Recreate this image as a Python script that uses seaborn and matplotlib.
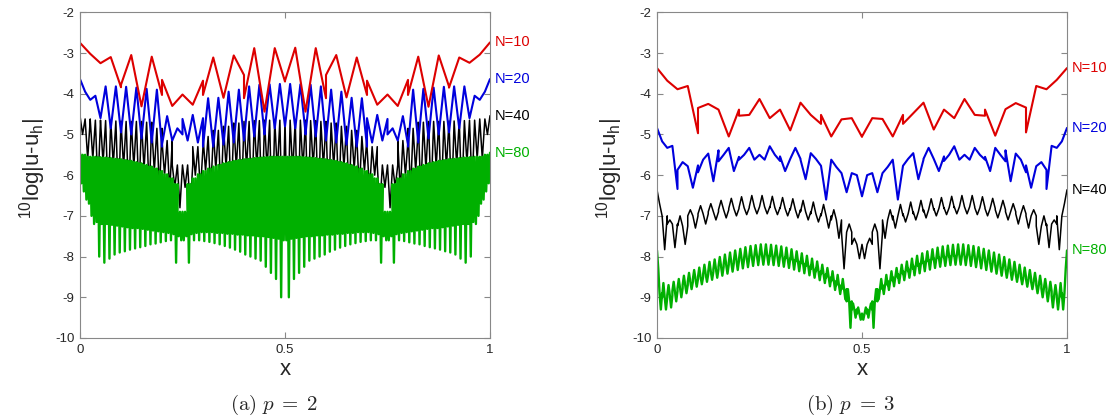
import matplotlib
matplotlib.use("Agg")
import matplotlib.pyplot as plt
import seaborn as sns

# ---------------- data ----------------
x_ticks = [0, 0.5, 1]
x_tick_labels = ["0", "0.5", "1"]
y_ticks = [-10, -9, -8, -7, -6, -5, -4, -3, -2]
labels = ["N=10", "N=20", "N=40", "N=80"]
elements = [10, 20, 40, 80]

# p = 2, N=10 (5 samples per element)
red_p2 = [-2.75, -3.02, -3.25, -3.10, -3.84,
          -3.78, -3.05, -4.31, -3.09, -4.03,
          -3.66, -4.30, -4.02, -4.27, -3.68,
          -4.03, -3.11, -4.10, -3.06, -3.54,
          -4.11, -2.88, -4.44, -2.88, -3.70,
          -3.68, -2.87, -4.44, -2.88, -4.11,
          -3.54, -3.05, -4.09, -3.11, -4.03,
          -3.68, -4.27, -4.02, -4.30, -3.66,
          -4.03, -3.09, -4.32, -3.06, -3.82,
          -3.85, -3.11, -3.24, -3.04, -2.74]
# p = 2, N=20
blue_p2 = [-3.64, -3.95, -4.15, -4.05, -4.60,
           -4.60, -3.82, -4.85, -3.82, -4.95,
           -4.95, -3.83, -5.00, -3.85, -5.10,
           -5.10, -3.88, -5.20, -3.90, -5.30,
           -5.25, -4.55, -5.15, -4.85, -5.00,
           -4.62, -5.15, -4.52, -5.20, -4.60,
           -5.30, -4.11, -5.30, -4.10, -5.25,
           -5.25, -3.95, -5.20, -3.90, -5.15,
           -5.15, -3.82, -5.05, -3.78, -5.00,
           -4.95, -3.77, -4.85, -3.76, -4.80,
           -4.80, -3.76, -4.85, -3.77, -4.95,
           -5.00, -3.78, -5.05, -3.82, -5.15,
           -5.15, -3.90, -5.20, -3.95, -5.25,
           -5.25, -4.10, -5.30, -4.11, -5.30,
           -4.60, -5.20, -4.52, -5.15, -4.62,
           -5.00, -4.85, -5.15, -4.55, -5.25,
           -5.30, -3.90, -5.20, -3.88, -5.10,
           -5.10, -3.85, -5.00, -3.83, -4.95,
           -4.95, -3.82, -4.85, -3.82, -4.60,
           -4.60, -4.05, -4.15, -3.95, -3.64]
# p = 2, N=40 : per element samples (edge/middle value, 2nd and 4th sample)
black_p2_mid = [-4.62, -4.65, -4.66, -4.67, -4.68, -4.68, -4.70, -4.85, -5.15, -5.75,
                -5.75, -5.30, -5.05, -4.90, -4.80, -4.72, -4.68, -4.66, -4.65, -4.65,
                -4.65, -4.65, -4.66, -4.68, -4.72, -4.80, -4.90, -5.05, -5.30, -5.75,
                -5.75, -5.15, -4.85, -4.70, -4.68, -4.68, -4.67, -4.66, -4.65, -4.62]
black_p2_k1 = [-5.00, -5.60, -5.70, -5.75, -5.80, -5.80, -5.85, -5.90, -6.00, -6.30,
               -6.30, -6.00, -5.90, -5.85, -5.80, -5.80, -5.80, -5.80, -5.85, -5.90,
               -7.50, -7.30, -7.00, -6.85, -6.70, -6.60, -6.50, -6.40, -6.40, -6.80,
               -6.80, -6.40, -6.40, -6.45, -6.50, -6.60, -6.70, -6.60, -6.30, -5.60]
black_p2_k3 = [-5.60, -6.30, -6.60, -6.70, -6.60, -6.50, -6.45, -6.40, -6.40, -6.80,
               -6.80, -6.40, -6.40, -6.50, -6.60, -6.70, -6.85, -7.00, -7.30, -7.50,
               -5.90, -5.85, -5.80, -5.80, -5.80, -5.80, -5.85, -5.90, -6.00, -6.30,
               -6.30, -6.00, -5.90, -5.85, -5.80, -5.80, -5.75, -5.70, -5.60, -5.00]
black_p2_ends = [-4.54, -4.54]
# p = 2, N=80
green_p2_mid = [-5.50, -5.55, -5.55, -5.56, -5.57, -5.58, -5.60, -5.61, -5.63, -5.65,
                -5.68, -5.71, -5.75, -5.79, -5.84, -5.90, -5.98, -6.08, -6.22, -6.90,
                -6.90, -6.22, -6.08, -5.98, -5.90, -5.84, -5.79, -5.75, -5.71, -5.68,
                -5.65, -5.63, -5.61, -5.60, -5.58, -5.57, -5.56, -5.55, -5.55, -5.55,
                -5.55, -5.55, -5.55, -5.56, -5.57, -5.58, -5.60, -5.61, -5.63, -5.65,
                -5.68, -5.71, -5.75, -5.79, -5.84, -5.90, -5.98, -6.08, -6.22, -6.90,
                -6.90, -6.22, -6.08, -5.98, -5.90, -5.84, -5.79, -5.75, -5.71, -5.68,
                -5.65, -5.63, -5.61, -5.60, -5.58, -5.57, -5.56, -5.55, -5.55, -5.50]
green_p2_k1 = [-6.20, -6.60, -7.00, -7.15, -7.20, -7.20, -7.22, -7.24, -7.26, -7.28,
               -7.30, -7.30, -7.32, -7.34, -7.36, -7.38, -7.40, -7.42, -7.45, -7.50,
               -7.60, -8.15, -7.60, -7.60, -7.62, -7.64, -7.67, -7.70, -7.74, -7.78,
               -7.83, -7.88, -7.95, -8.00, -8.05, -8.10, -8.25, -8.40, -8.55, -9.00,
               -7.60, -7.56, -7.54, -7.52, -7.50, -7.50, -7.48, -7.48, -7.46, -7.46,
               -7.44, -7.44, -7.42, -7.42, -7.40, -7.40, -7.40, -7.42, -7.45, -7.50,
               -7.60, -8.15, -7.60, -7.62, -7.65, -7.68, -7.70, -7.74, -7.77, -7.80,
               -7.83, -7.87, -7.90, -7.95, -8.05, -8.15, -8.00, -7.20, -6.70, -6.40]
green_p2_k3 = [-6.40, -6.70, -7.20, -8.00, -8.15, -8.05, -7.95, -7.90, -7.87, -7.83,
               -7.80, -7.77, -7.74, -7.70, -7.68, -7.65, -7.62, -7.60, -8.15, -7.60,
               -7.50, -7.45, -7.42, -7.40, -7.40, -7.40, -7.42, -7.42, -7.44, -7.44,
               -7.46, -7.46, -7.48, -7.48, -7.50, -7.50, -7.52, -7.54, -7.56, -7.60,
               -9.00, -8.55, -8.40, -8.25, -8.10, -8.05, -8.00, -7.95, -7.88, -7.83,
               -7.78, -7.74, -7.70, -7.67, -7.64, -7.62, -7.60, -7.60, -8.15, -7.60,
               -7.50, -7.45, -7.42, -7.40, -7.38, -7.36, -7.34, -7.32, -7.30, -7.30,
               -7.28, -7.26, -7.24, -7.22, -7.20, -7.20, -7.15, -7.00, -6.60, -6.20]
green_p2_ends = [-5.45, -5.45]

# p = 3, N=10
red_p3 = [-3.37, -3.68, -3.89, -3.81, -4.97,
          -4.35, -4.25, -4.39, -5.05, -4.39,
          -4.54, -4.52, -4.13, -4.60, -4.39,
          -4.39, -4.90, -4.22, -4.52, -4.74,
          -4.52, -5.05, -4.63, -4.60, -5.06,
          -5.05, -4.60, -4.62, -5.05, -4.52,
          -4.74, -4.48, -4.22, -4.88, -4.39,
          -4.39, -4.60, -4.13, -4.52, -4.54,
          -4.39, -5.03, -4.38, -4.23, -4.34,
          -4.95, -3.81, -3.89, -3.66, -3.37]
# p = 3, N=20
blue_p3 = [-4.84, -5.17, -5.33, -5.28, -6.34,
           -5.87, -5.68, -5.78, -6.31, -5.76,
           -5.93, -5.62, -5.47, -6.15, -5.39,
           -5.66, -5.50, -5.33, -5.90, -5.55,
           -5.62, -5.50, -5.33, -5.62, -5.50,
           -5.50, -5.62, -5.29, -5.50, -5.65,
           -5.54, -5.90, -5.60, -5.33, -5.60,
           -5.62, -6.10, -5.46, -5.60, -5.77,
           -5.77, -6.60, -5.62, -5.80, -5.95,
           -5.95, -6.42, -5.95, -6.00, -6.52,
           -6.52, -6.00, -5.95, -6.42, -5.95,
           -5.95, -5.80, -5.62, -6.60, -5.77,
           -5.77, -5.60, -5.46, -6.10, -5.62,
           -5.60, -5.33, -5.60, -5.90, -5.54,
           -5.65, -5.50, -5.29, -5.62, -5.50,
           -5.50, -5.62, -5.33, -5.50, -5.62,
           -5.55, -5.90, -5.33, -5.50, -5.66,
           -5.39, -6.15, -5.47, -5.62, -5.93,
           -5.76, -6.31, -5.78, -5.68, -5.87,
           -6.34, -5.28, -5.33, -5.17, -4.84]
# p = 3, N=40
black_p3_mid = [-7.00, -7.20, -7.25, -7.00, -6.95, -6.90, -6.85, -6.82, -6.80, -6.78,
                -6.78, -6.80, -6.82, -6.85, -6.90, -6.95, -7.00, -7.10, -7.40, -7.70,
                -7.70, -7.40, -7.10, -7.00, -6.95, -6.90, -6.85, -6.82, -6.80, -6.78,
                -6.78, -6.80, -6.82, -6.85, -6.90, -6.95, -7.00, -7.25, -7.20, -7.00]
black_p3_k1 = [-6.70, -7.10, -7.00, -6.85, -6.75, -6.70, -6.62, -6.57, -6.53, -6.50,
               -6.50, -6.52, -6.55, -6.58, -6.62, -6.66, -6.72, -6.85, -8.30, -7.55,
               -8.05, -7.20, -7.55, -7.30, -7.15, -7.10, -7.05, -7.00, -6.97, -6.95,
               -6.95, -6.97, -7.00, -7.05, -7.10, -7.20, -7.30, -7.70, -7.78, -7.83]
black_p3_k3 = [-7.83, -7.78, -7.70, -7.30, -7.20, -7.10, -7.05, -7.00, -6.97, -6.95,
               -6.95, -6.97, -7.00, -7.05, -7.10, -7.15, -7.30, -7.55, -7.20, -8.05,
               -7.55, -8.30, -6.85, -6.72, -6.66, -6.62, -6.58, -6.55, -6.52, -6.50,
               -6.50, -6.53, -6.57, -6.62, -6.70, -6.75, -6.85, -7.00, -7.10, -6.70]
black_p3_ends = [-6.36, -6.36]
# p = 3, N=80
green_p3_mid = [-8.90, -9.00, -8.95, -8.85, -8.78, -8.70, -8.62, -8.55, -8.50, -8.43,
                -8.37, -8.31, -8.25, -8.20, -8.15, -8.10, -8.06, -8.03, -8.00, -7.98,
                -7.97, -7.97, -7.98, -8.00, -8.02, -8.05, -8.08, -8.12, -8.17, -8.23,
                -8.30, -8.36, -8.43, -8.51, -8.60, -8.70, -8.80, -9.10, -9.30, -9.40,
                -9.40, -9.30, -9.10, -8.80, -8.70, -8.60, -8.51, -8.43, -8.36, -8.30,
                -8.23, -8.17, -8.12, -8.08, -8.05, -8.02, -8.00, -7.98, -7.97, -7.97,
                -7.98, -8.00, -8.03, -8.06, -8.10, -8.15, -8.20, -8.25, -8.31, -8.37,
                -8.43, -8.50, -8.55, -8.62, -8.70, -8.78, -8.85, -8.95, -9.00, -8.90]
green_p3_k1 = [-8.30, -8.65, -8.70, -8.62, -8.55, -8.47, -8.40, -8.33, -8.27, -8.20,
               -8.13, -8.07, -8.01, -7.95, -7.90, -7.85, -7.81, -7.77, -7.74, -7.72,
               -7.70, -7.70, -7.71, -7.73, -7.75, -7.78, -7.82, -7.87, -7.92, -7.98,
               -8.05, -8.12, -8.20, -8.28, -8.36, -8.45, -8.55, -8.80, -9.15, -9.25,
               -9.55, -9.50, -9.75, -9.05, -8.92, -8.82, -8.73, -8.65, -8.58, -8.52,
               -8.46, -8.41, -8.36, -8.32, -8.28, -8.25, -8.23, -8.21, -8.20, -8.20,
               -8.21, -8.23, -8.26, -8.29, -8.33, -8.37, -8.42, -8.47, -8.52, -8.57,
               -8.62, -8.68, -8.74, -8.80, -8.90, -9.00, -9.10, -9.25, -9.30, -9.30]
green_p3_k3 = [-9.30, -9.30, -9.25, -9.10, -9.00, -8.90, -8.80, -8.74, -8.68, -8.62,
               -8.57, -8.52, -8.47, -8.42, -8.37, -8.33, -8.29, -8.26, -8.23, -8.21,
               -8.20, -8.20, -8.21, -8.23, -8.25, -8.28, -8.32, -8.36, -8.41, -8.46,
               -8.52, -8.58, -8.65, -8.73, -8.82, -8.92, -9.05, -9.75, -9.50, -9.55,
               -9.25, -9.15, -8.80, -8.55, -8.45, -8.36, -8.28, -8.20, -8.12, -8.05,
               -7.98, -7.92, -7.87, -7.82, -7.78, -7.75, -7.73, -7.71, -7.70, -7.70,
               -7.72, -7.74, -7.77, -7.81, -7.85, -7.90, -7.95, -8.01, -8.07, -8.13,
               -8.20, -8.27, -8.33, -8.40, -8.47, -8.55, -8.62, -8.70, -8.65, -8.30]
green_p3_ends = [-7.85, -7.85]

captions = [r"$\mathrm{(a)}\ p\;=\;2$", r"$\mathrm{(b)}\ p\;=\;3$"]
colors = ["#dd0000", "#0000dd", "#000000", "#00b000"]


def sample_x(n_el):
    return [(i + k / 4) / n_el for i in range(n_el) for k in range(5)]


def element_samples(mid, k1, k3, ends):
    y = []
    for a, b, c in zip(mid, k1, k3):
        y += [a, b, a, c, a]
    y[0], y[-1] = ends[0], ends[1]
    return y


panels = [
    [red_p2, blue_p2,
     element_samples(black_p2_mid, black_p2_k1, black_p2_k3, black_p2_ends),
     element_samples(green_p2_mid, green_p2_k1, green_p2_k3, green_p2_ends)],
    [red_p3, blue_p3,
     element_samples(black_p3_mid, black_p3_k1, black_p3_k3, black_p3_ends),
     element_samples(green_p3_mid, green_p3_k1, green_p3_k3, green_p3_ends)],
]

# ---------------- figure ----------------
sns.set_style("ticks")
plt.rcParams["font.family"] = ["Liberation Sans", "DejaVu Sans"]
plt.rcParams["axes.unicode_minus"] = False

W, H = 1111, 418
fig = plt.figure(figsize=(W / 100, H / 100), dpi=100)
axes = [fig.add_axes([80 / W, (H - 338) / H, 410 / W, 325.7 / H]),
        fig.add_axes([657 / W, (H - 338) / H, 410 / W, 325.7 / H])]
caption_x = [274, 851]
widths = [1.5, 1.5, 1.1, 1.7]
order = [2, 3, 1, 0]

for p, ax in enumerate(axes):
    series = panels[p]
    for s in order:
        sns.lineplot(x=sample_x(elements[s]), y=series[s], ax=ax, color=colors[s],
                     lw=widths[s], sort=False, estimator=None, legend=False)
    for s in range(4):
        ax.text(1.012, series[s][-1], labels[s], color=colors[s], fontsize=10.5,
                ha="left", va="center", transform=ax.get_yaxis_transform(),
                clip_on=False)
    ax.set_xlim(0, 1)
    ax.set_ylim(-10, -2)
    ax.set_xticks(x_ticks)
    ax.set_xticklabels(x_tick_labels)
    ax.set_yticks(y_ticks)
    ax.set_yticklabels([str(v) for v in y_ticks])
    ax.tick_params(direction="in", length=4, width=0.8, color="#888888",
                   labelsize=9.5, pad=4, top=True, right=True)
    for sp in ax.spines.values():
        sp.set_color("#888888")
        sp.set_linewidth(0.8)
    ax.set_xlabel("")
    ax.set_ylabel(r"$^\mathregular{10}$log|u-u$_\mathregular{h}$|", fontsize=16)
    ax.yaxis.set_label_coords(-0.078, 0.52)
    ax.text(0.5, -0.113, "x", transform=ax.transAxes, ha="center",
            va="baseline", fontsize=16)
    fig.text(caption_x[p] / W, (H - 410) / H, captions[p], fontsize=15,
             ha="center", va="baseline", math_fontfamily="cm")

fig.savefig("out.png", dpi=100, facecolor="white")
